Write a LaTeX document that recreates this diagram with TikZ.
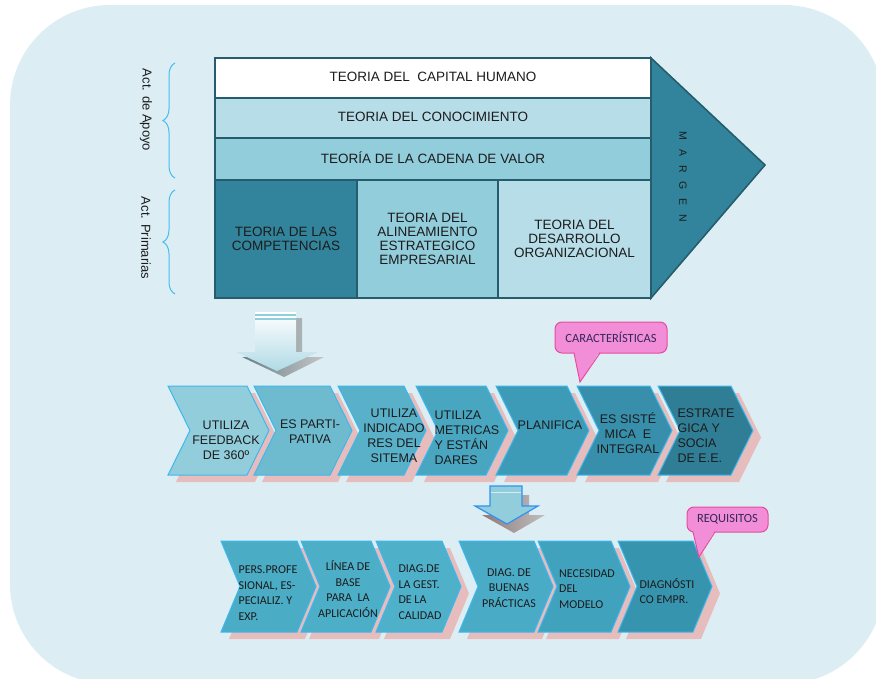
\documentclass[tikz,border=0pt]{standalone}
\usepackage{fontspec}
\setmainfont{Liberation Sans}
\newfontfamily\calib{Carlito}
\usepackage{xcolor}
\usepackage{tikz}
\usetikzlibrary{positioning,decorations.pathreplacing}

\definecolor{fondo}{HTML}{DCEEF4}
\definecolor{borde}{HTML}{265D6C}
\definecolor{celeste1}{HTML}{B7DDE8}
\definecolor{celeste2}{HTML}{92CDDC}
\definecolor{petroleo}{HTML}{31849B}
\definecolor{azul}{HTML}{3DB8EE}
\definecolor{rosa}{HTML}{E6BDBC}
\definecolor{tinta}{HTML}{1C1C1C}
\definecolor{rosaGlobo}{HTML}{F28DD7}
\definecolor{globoBorde}{HTML}{E64B9E}
\definecolor{globoTxt}{HTML}{33285A}
\definecolor{llaveAzul}{HTML}{45BDF0}
\definecolor{ca}{HTML}{92CDDC}
\definecolor{cb}{HTML}{6EBBD0}
\definecolor{cc}{HTML}{58B0C9}
\definecolor{cd}{HTML}{48A6C1}
\definecolor{ce}{HTML}{3D9BB7}
\definecolor{cf}{HTML}{378FAB}
\definecolor{cg}{HTML}{307E96}
\definecolor{da}{HTML}{4BACC6}
\definecolor{db}{HTML}{4DAEC8}
\definecolor{dc}{HTML}{4FB0CA}
\definecolor{dd}{HTML}{4AABC6}
\definecolor{de}{HTML}{41A2BE}
\definecolor{df}{HTML}{3794AF}

% left/tip/colour of each chevron
\def\filauno{168/269/ca, 254/352/cb, 338/426/cc, 416/508/cd, 496/589/ce, 577/672/cf, 658/753/cg}
\def\filados{221/316/da, 301/390/db, 376/461/dc, 459/553/dd, 538/630/de, 618/712/df}

\begin{document}
\begin{tikzpicture}[x=1pt, y=-1pt,
  capa/.style={rectangle, draw=borde, line width=1.6pt, outer sep=0pt, inner sep=2pt, align=center, text=tinta, font=\fontsize{13.5}{14}\selectfont},
  chev/.style={draw=azul, line width=1pt},
  txtA/.style={font=\fontsize{12.5}{15}\selectfont, text=tinta, inner sep=0pt},
  txtB/.style={font=\calib\fontsize{12}{15.5}\selectfont, text=tinta, inner sep=0pt},
  globo/.style={rectangle, rounded corners=7pt, draw=globoBorde, fill=rosaGlobo, line width=1pt, inner sep=1pt, text=globoTxt, font=\calib\fontsize{12.5}{13}\selectfont},
  llave/.style={draw=llaveAzul, line width=1pt, decorate, decoration={brace, amplitude=12pt}}]

\useasboundingbox (0,0) rectangle (876,679);
\fill[fondo, rounded corners=100pt] (10,5) rectangle (884,684);

% cadena de valor
\node[capa, fill=white, minimum width=436pt, minimum height=40pt] (capital) at (433,78) {\raisebox{3pt}{TEORIA DEL\ \ CAPITAL HUMANO}};
\node[capa, fill=celeste1, minimum width=436pt, minimum height=40pt, below=0pt of capital] (conoc) {\raisebox{2pt}{TEORIA DEL CONOCIMIENTO}};
\node[capa, fill=celeste2, minimum width=436pt, minimum height=42pt, below=0pt of conoc] (cadena) {\raisebox{2pt}{TEORÍA DE LA CADENA DE VALOR}};
\node[capa, fill=petroleo, minimum width=142pt, minimum height=118pt, below right=0pt and 0pt of cadena.south west] (compet) {TEORIA DE LAS\\COMPETENCIAS};
\node[capa, fill=celeste2, minimum width=141pt, minimum height=118pt, right=0pt of compet] (alineam) {TEORIA DEL\\ALINEAMIENTO\\ESTRATEGICO\\EMPRESARIAL};
\node[capa, fill=celeste1, minimum width=153pt, minimum height=118pt, right=0pt of alineam] (desarr) {TEORIA DEL\\DESARROLLO\\ORGANIZACIONAL};

\coordinate (punta) at (765,165);
\filldraw[fill=petroleo, draw=borde, line width=1.6pt] (capital.north east) -- (punta) -- (desarr.south east) -- cycle;
\node[rotate=-90, text=tinta, font=\fontsize{10.5}{10.5}\selectfont] (margen) at (683,177) {M\hspace{9pt}A\hspace{9pt}R\hspace{9pt}G\hspace{9pt}E\hspace{9pt}N};

% llaves
\draw[llave] (175,178) -- (175,63);
\draw[llave] (175,294) -- (175,190);
\node[rotate=-90, text=tinta, font=\fontsize{13}{13}\selectfont] (apoyo) at (146,110) {Act. de Apoyo};
\node[rotate=-90, text=tinta, font=\fontsize{13}{13}\selectfont] (primarias) at (146,238) {Act. Primarias};

% flecha grande
\shade[left color=gray!70!petroleo, right color=gray!45] (262,318) -- (302,318) -- (302,357) -- (324,357) -- (284,377) -- (242,357) -- (262,357) -- cycle;
\shade[top color=white, bottom color=celeste1!80!celeste2] (255,312) -- (296,312) -- (296,352) -- (318,352) -- (277,371) -- (236,352) -- (255,352) -- cycle;
\draw[celeste2, line width=1.2pt] (255,315) -- (296,315);
\draw[celeste2, line width=1.2pt] (255,319) -- (296,319);

% caracteristicas
\foreach \l/\t/\c in \filauno
  \fill[rosa, shift={(8,7)}] (\l,386) -- ({\t-22},386) -- (\t,430.5) -- ({\t-22},475) -- (\l,475) -- ({\l+22},430.5) -- cycle;
\foreach \l/\t/\c in \filauno
  \filldraw[chev, fill=\c] (\l,386) -- ({\t-22},386) -- (\t,430.5) -- ({\t-22},475) -- (\l,475) -- ({\l+22},430.5) -- cycle;

\node[txtA, align=center] (feedback) at (226,440) {UTILIZA\\FEEDBACK\\DE 360º};
\node[txtA, align=center] (partici) at (310,432) {ES PARTI-\\PATIVA};
\node[txtA, align=center] (indica) at (394,436) {UTILIZA\\INDICADO\\RES DEL\\SITEMA};
\node[txtA, align=left] (metric) at (467,438) {UTILIZA\\METRICAS\\Y ESTÁN\\DARES};
\node[txtA] (planif) at (550,425) {PLANIFICA};
\node[txtA, align=center] (sistem) at (628,433) {ES SISTÉ\\MICA\ \ E\\INTEGRAL};
\node[txtA, align=left] (estrat) at (706,436) {ESTRATE\\GICA Y\\SOCIA\\DE E.E.};

\node[globo, minimum width=112pt, minimum height=31pt] (caract) at (611,337.5) {CARACTERÍSTICAS};
\coordinate (puntaC) at (580,382);
\fill[rosaGlobo] (574,351) -- (600,351) -- (puntaC) -- cycle;
\draw[globoBorde, line width=1pt] (574,353) -- (puntaC) -- (600,353);

% flecha pequena
\shade[left color=gray!60!red!40!black!60, right color=gray!50] (497,495) -- (529,495) -- (529,515) -- (545,515) -- (514,533) -- (482,515) -- (497,515) -- cycle;
\filldraw[fill=celeste2, draw=azul!80!blue, line width=1.2pt] (490,486) -- (522,486) -- (522,506) -- (538,506) -- (507,524) -- (475,506) -- (490,506) -- cycle;
\draw[white!60!celeste2, line width=1pt] (491,492) -- (521,492);

% requisitos
\foreach \l/\t/\c in \filados
  \fill[rosa, shift={(8,7)}] (\l,541) -- ({\t-19},541) -- (\t,586.5) -- ({\t-19},632) -- (\l,632) -- ({\l+19},586.5) -- cycle;
\foreach \l/\t/\c in \filados
  \filldraw[chev, fill=\c] (\l,541) -- ({\t-19},541) -- (\t,586.5) -- ({\t-19},632) -- (\l,632) -- ({\l+19},586.5) -- cycle;

\node[txtB, align=left] (pers) at (268,593) {PERS.PROFE\\SIONAL, ES-\\PECIALIZ. Y\\EXP.};
\node[txtB, align=center] (linea) at (348,589) {LÍNEA DE\\BASE\\PARA\ \ LA\\APLICACIÓN};
\node[txtB, align=left] (gest) at (420,592) {DIAG.DE\\LA GEST.\\DE LA\\CALIDAD};
\node[txtB, align=center] (buenas) at (509,588) {DIAG. DE\\BUENAS\\PRÁCTICAS};
\node[txtB, align=left] (necesi) at (587,589) {NECESIDAD\\DEL\\MODELO};
\node[txtB, align=left] (diagno) at (667,591) {DIAGNÓSTI\\CO EMPR.};

\node[globo, minimum width=81pt, minimum height=25pt] (requis) at (727.5,519.5) {REQUISITOS};
\coordinate (puntaR) at (699,557);
\fill[rosaGlobo] (693,530) -- (715,530) -- (puntaR) -- cycle;
\draw[globoBorde, line width=1pt] (693,532) -- (puntaR) -- (715,532);
\end{tikzpicture}
\end{document}
